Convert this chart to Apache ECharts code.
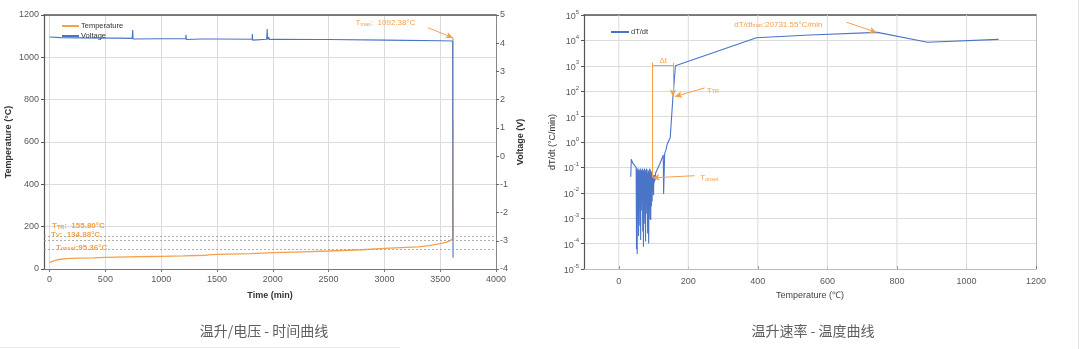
<!DOCTYPE html>
<html>
<head>
<meta charset="utf-8">
<script src="https://cdn.jsdelivr.net/npm/echarts@6/dist/echarts.min.js"></script>
<style>
  html, body { margin: 0; padding: 0; background: #fff; }
  #chart { width: 1080px; height: 349px; }
</style>
</head>
<body>
<div id="chart"></div>
<script>
// ---- Left panel: temperature / voltage vs time ----
const timeTicks = [0, 500, 1000, 1500, 2000, 2500, 3000, 3500, 4000];
const tempTime = [0, 30, 60, 100, 150, 250, 400, 500, 700, 900, 1000, 1200, 1400, 1420, 1500, 1800, 2000, 2200, 2500, 2800, 3000, 3300, 3400, 3500, 3550, 3590, 3612, 3614];
const tempValue = [30, 37, 42, 46, 49, 51, 53, 55, 57, 59, 60, 62, 65, 67, 69, 73, 77, 80, 85, 91, 97, 105, 110, 120, 126, 134, 142, 1092.38];
const voltTime = [0, 100, 300, 600, 618, 620, 625, 740, 745, 748, 750, 1000, 1220, 1222, 1225, 1228, 1360, 1362, 1365, 1500, 1815, 1817, 1820, 1823, 1945, 1950, 1953, 1962, 1965, 1968, 2000, 2420, 2425, 2428, 2500, 3010, 3015, 3018, 3500, 3612, 3613, 3614, 3615];
const voltValue = [4.22, 4.2, 4.19, 4.18, 4.18, 4.15, 4.18, 4.17, 4.47, 4.15, 4.17, 4.16, 4.16, 4.3, 4.13, 4.16, 4.15, 4.12, 4.15, 4.15, 4.14, 4.33, 4.11, 4.14, 4.14, 4.5, 4.13, 4.14, 4.22, 4.13, 4.14, 4.13, 4.16, 4.11, 4.13, 4.11, 4.14, 4.1, 4.09, 4.08, 0.6, 1.3, -3.6];
const tOnset = 95.36, tV = 134.88, tTR = 155.80, tMax = 1092.38, tMaxTime = 3614;

// ---- Right panel: dT/dt vs temperature ----
const rateTicks = [0, 200, 400, 600, 800, 1000, 1200];
const rateRange = [1e-5, 1e5];
const rateTemp = [34.5, 36, 40, 45, 50, 51, 52, 53, 54, 55, 56, 57, 58, 59, 60, 61, 62, 63, 64, 65, 66, 67, 68, 69, 70, 71, 72, 73, 74, 75, 76, 77, 78, 79, 80, 81, 82, 83, 84, 85, 86, 87, 88, 89, 90, 91, 92, 93, 94, 95, 96, 97, 98, 99, 100, 101, 102, 103, 104, 106, 110, 115, 120, 125, 128, 129, 132, 136, 139, 148, 155.8, 163, 396, 549, 744, 888, 1092.38];
const rateValue = [0.043, 0.21, 0.15, 0.12, 0.1, 6e-5, 0.09, 3.9e-5, 0.08, 0.004, 0.09, 2e-4, 0.07, 0.01, 0.08, 5e-4, 0.09, 1.4e-4, 0.07, 0.002, 0.08, 0.02, 0.09, 3e-4, 0.07, 7.5e-5, 0.08, 0.003, 0.09, 6e-4, 0.07, 1.2e-4, 0.08, 0.005, 0.09, 0.0015, 0.06, 2.5e-4, 0.08, 0.01, 1e-4, 0.07, 0.004, 0.09, 9e-4, 0.08, 8.5e-4, 0.06, 0.003, 0.07, 0.0045, 0.05, 0.012, 0.05, 0.008, 0.04, 0.025, 0.05, 0.03, 0.06, 0.08, 0.11, 0.16, 0.24, 0.31, 0.009, 0.35, 0.5, 0.8, 1.5, 60, 1000, 12800, 16300, 20731.55, 8500, 11000];
const rateMax = 20731.55, rateMaxTemp = 744;

const ORANGE = '#F5A04A';
const BLUE = '#4A74C8';
const FONT = 'Liberation Sans';
const GRIDLINE = '#dcdcdc';

const zip = (a, b) => a.map((v, i) => [v, b[i]]);

// vertical guide segments of the rate panel, separated by gaps
const rateGridData = [];
rateTicks.slice(0, -1).forEach(v => {
  rateGridData.push([v, rateRange[0] * 1.01], [v, rateRange[1] * 0.99], [v, '-']);
});

const subRich = {
  b: { fontSize: 8, color: ORANGE, fontFamily: FONT, lineHeight: 11, verticalAlign: 'bottom' },
  s: { fontSize: 5.5, color: ORANGE, fontFamily: FONT, lineHeight: 11, verticalAlign: 'bottom', padding: [4, 0, 0, 0] }
};

const tickLabel = { color: '#595959', fontSize: 9, fontFamily: FONT, formatter: v => String(v) };

const chart = echarts.init(document.getElementById('chart'), null, { renderer: 'canvas' });

chart.setOption({
  animation: false,
  textStyle: { fontFamily: FONT },
  grid: [
    { left: 44, top: 15, right: 584, bottom: 80, show: false },
    { left: 584, top: 15, right: 44, bottom: 80, show: false }
  ],
  legend: [
    {
      data: ['Temperature', 'Voltage'], orient: 'vertical', left: 57, top: 17,
      itemWidth: 17, itemHeight: 2, itemGap: 2, icon: 'rect',
      textStyle: { fontSize: 7.5, color: '#333', fontFamily: FONT, padding: [0, 0, 0, -3] }
    },
    {
      data: ['dT/dt'], left: 606, top: 23,
      itemWidth: 18, itemHeight: 2, icon: 'rect',
      textStyle: { fontSize: 7.5, color: '#333', fontFamily: FONT, padding: [0, 0, 0, -3] }
    }
  ],
  xAxis: [
    {
      gridIndex: 0, type: 'value', min: -50, max: 4000,
      name: 'Time (min)', nameLocation: 'middle', nameGap: 22,
      nameTextStyle: { fontSize: 9, fontWeight: 'bold', color: '#333', fontFamily: FONT },
      axisLine: { show: true, onZero: false, lineStyle: { color: '#777', width: 1 } },
      axisTick: { show: true, length: 3, customValues: timeTicks, lineStyle: { color: '#777' } },
      axisLabel: Object.assign({ customValues: timeTicks, margin: 6 }, tickLabel),
      splitLine: { show: true, lineStyle: { color: GRIDLINE, width: 1 } }
    },
    {
      gridIndex: 0, type: 'value', position: 'top', min: -50, max: 4000,
      axisLine: { show: true, onZero: false, lineStyle: { color: '#555', width: 1.5 } },
      axisTick: { show: false }, axisLabel: { show: false }, splitLine: { show: false }
    },
    {
      gridIndex: 1, type: 'value', min: -100, max: 1200,
      name: 'Temperature (℃)', nameLocation: 'middle', nameGap: 22,
      nameTextStyle: { fontSize: 9, color: '#444', fontFamily: FONT },
      axisLine: { show: true, onZero: false, lineStyle: { color: '#bbb', width: 1 } },
      axisTick: { show: true, inside: true, length: 3, customValues: rateTicks, lineStyle: { color: '#777' } },
      axisLabel: Object.assign({ customValues: rateTicks, margin: 8 }, tickLabel),
      splitLine: { show: false }
    },
    {
      gridIndex: 1, type: 'value', position: 'top', min: -100, max: 1200,
      axisLine: { show: true, onZero: false, lineStyle: { color: '#555', width: 1.5 } },
      axisTick: { show: false }, axisLabel: { show: false }, splitLine: { show: false }
    }
  ],
  yAxis: [
    {
      gridIndex: 0, type: 'value', min: 0, max: 1200, interval: 200,
      name: 'Temperature (°C)', nameLocation: 'middle', nameGap: 31,
      nameTextStyle: { fontSize: 9, fontWeight: 'bold', color: '#333', fontFamily: FONT },
      axisLine: { show: true, onZero: false, lineStyle: { color: '#555', width: 1.2 } },
      axisTick: { show: true, length: 3, lineStyle: { color: '#555' } },
      axisLabel: Object.assign({ margin: 5 }, tickLabel),
      splitLine: { show: true, lineStyle: { color: GRIDLINE, width: 1 } }
    },
    {
      gridIndex: 0, type: 'value', position: 'right', min: -4, max: 5, interval: 1,
      name: 'Voltage (V)', nameLocation: 'middle', nameGap: 20, nameRotate: 90,
      nameTextStyle: { fontSize: 9, fontWeight: 'bold', color: '#333', fontFamily: FONT },
      axisLine: { show: true, onZero: false, lineStyle: { color: '#888', width: 1 } },
      axisTick: { show: true, length: 3, lineStyle: { color: '#666' } },
      axisLabel: Object.assign({ margin: 4 }, tickLabel),
      splitLine: { show: false }
    },
    {
      gridIndex: 1, type: 'log', logBase: 10, min: rateRange[0], max: rateRange[1], interval: 1,
      name: 'dT/dt (°C/min)', nameLocation: 'middle', nameGap: 27,
      nameTextStyle: { fontSize: 9, color: '#333', fontFamily: FONT },
      axisLine: { show: true, onZero: false, lineStyle: { color: '#555', width: 1.2 } },
      axisTick: { show: true, length: 3, lineStyle: { color: '#555' } },
      axisLabel: {
        margin: 5,
        formatter: v => '{b|10}{s|' + Math.round(Math.log10(v)) + '}',
        rich: {
          b: { fontSize: 9, color: '#595959', fontFamily: FONT, lineHeight: 12, verticalAlign: 'bottom' },
          s: { fontSize: 6, color: '#595959', fontFamily: FONT, lineHeight: 12, verticalAlign: 'top', padding: [0, 0, 5, 0] }
        }
      },
      splitLine: { show: true, lineStyle: { color: GRIDLINE, width: 1 } }
    },
    {
      gridIndex: 1, type: 'value', position: 'right', min: 0, max: 1,
      axisLine: { show: true, onZero: false, lineStyle: { color: '#bbb', width: 1 } },
      axisTick: { show: false }, axisLabel: { show: false }, splitLine: { show: false }
    }
  ],
  series: [
    {
      // vertical grid of the rate panel
      name: 'rateGrid', type: 'line', xAxisIndex: 2, yAxisIndex: 2,
      data: rateGridData, showSymbol: false, symbol: 'none', connectNulls: false,
      lineStyle: { color: GRIDLINE, width: 1 }, itemStyle: { color: GRIDLINE },
      silent: true, z: 1, tooltip: { show: false }
    },
    {
      name: 'Temperature', type: 'line', xAxisIndex: 0, yAxisIndex: 0,
      data: zip(tempTime, tempValue), showSymbol: false, symbol: 'none',
      lineStyle: { color: ORANGE, width: 1.3 }, itemStyle: { color: ORANGE },
      z: 2,
      markLine: {
        silent: true, symbol: 'none', animation: false,
        lineStyle: { color: '#999', type: [2, 2], width: 0.8 },
        label: { show: true, position: 'insideStartTop', distance: [8, 2], fontWeight: 'bold', rich: subRich },
        data: [
          { yAxis: tTR, label: { formatter: '{b|T}{s|TR}{b|:  ' + tTR.toFixed(2) + '°C}', offset: [0, -4] } },
          { yAxis: tV, label: { formatter: '{b|T}{s|V}{b|:  ' + tV.toFixed(2) + '°C}', offset: [-1, 0] } },
          { yAxis: tOnset, label: { formatter: '{b|T}{s|onset}{b|:' + tOnset.toFixed(2) + '°C}', offset: [4, 5] } },
          [
            { coord: [3390, 1140], symbol: 'none', lineStyle: { color: ORANGE, type: 'solid', width: 1 }, label: { show: false } },
            { coord: [tMaxTime, tMax], symbol: 'arrow', symbolSize: [5, 7] }
          ]
        ]
      },
      markPoint: {
        silent: true, symbol: 'circle', symbolSize: 0,
        data: [
          {
            coord: [3010, 1168],
            label: { show: true, position: 'inside', formatter: '{b|T}{s|max}{b|:  ' + tMax.toFixed(2) + '°C}', rich: subRich }
          }
        ]
      }
    },
    {
      name: 'Voltage', type: 'line', xAxisIndex: 0, yAxisIndex: 1,
      data: zip(voltTime, voltValue), showSymbol: false, symbol: 'none',
      lineStyle: { color: BLUE, width: 1.1 }, itemStyle: { color: BLUE },
      z: 3
    },
    {
      name: 'dT/dt', type: 'line', xAxisIndex: 2, yAxisIndex: 2,
      data: zip(rateTemp, rateValue), showSymbol: false, symbol: 'none',
      lineStyle: { color: BLUE, width: 1.1 }, itemStyle: { color: BLUE },
      z: 3,
      markLine: {
        silent: true, animation: false, symbol: 'none',
        lineStyle: { color: ORANGE, type: 'solid', width: 1 },
        label: { show: false },
        data: [
          // onset vertical marker
          [{ coord: [tOnset, 1300] }, { coord: [tOnset, 0.04] }],
          // Δt bracket between onset and thermal runaway
          [{ coord: [tOnset, 1070] }, { coord: [tTR, 1070] }],
          [{ coord: [tTR, 1300] }, { coord: [tTR, 62], symbol: 'arrow', symbolSize: [5, 7] }],
          // T_TR pointer
          [{ coord: [247, 135] }, { coord: [162, 62], symbol: 'arrow', symbolSize: [5, 7] }],
          // T_onset pointer
          [{ coord: [218, 0.047] }, { coord: [tOnset + 2, 0.039], symbol: 'arrow', symbolSize: [5, 7] }],
          // dT/dt max pointer
          [{ coord: [655, 52000] }, { coord: [rateMaxTemp - 3, rateMax], symbol: 'arrow', symbolSize: [5, 7] }]
        ]
      },
      markPoint: {
        silent: true, symbol: 'circle', symbolSize: 0,
        label: { show: true, position: 'right', distance: 0, rich: subRich },
        data: [
          { coord: [117, 1800], label: { formatter: '{b|Δt}' } },
          { coord: [253, 120], label: { formatter: '{b|T}{s|TR}' } },
          { coord: [234, 0.043], label: { formatter: '{b|T}{s|onset}' } },
          { coord: [332, 48000], label: { formatter: '{b|dT/dt}{s|max}{b|:' + rateMax.toFixed(2) + '°C/min}' } }
        ]
      }
    }
  ],
  graphic: [
    {
      type: 'text', x: 264, y: 331,
      style: { text: '温升/电压 - 时间曲线', fill: '#5f5f5f', font: '14px "Noto Sans CJK SC"', textAlign: 'center', textVerticalAlign: 'middle' }
    },
    {
      type: 'text', x: 813, y: 331,
      style: { text: '温升速率 - 温度曲线', fill: '#5f5f5f', font: '14px "Noto Sans CJK SC"', textAlign: 'center', textVerticalAlign: 'middle' }
    },
    { type: 'line', shape: { x1: 1078.5, y1: 0, x2: 1078.5, y2: 349 }, style: { stroke: '#e2e2e2', lineWidth: 1 } },
    { type: 'line', shape: { x1: 0, y1: 347.5, x2: 400, y2: 347.5 }, style: { stroke: '#ececec', lineWidth: 1 } }
  ]
});
</script>
</body>
</html>
